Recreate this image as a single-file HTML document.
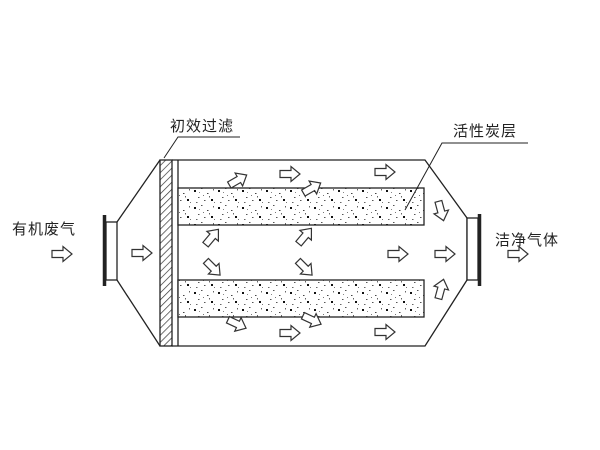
<!DOCTYPE html>
<html><head><meta charset="utf-8"><style>
body{margin:0;background:#fff}
svg{display:block}
text{font-family:"Liberation Sans","Noto Sans CJK SC",sans-serif;font-size:15px;fill:#222;letter-spacing:1px}
</style></head><body>
<svg width="600" height="450" viewBox="0 0 600 450">
<defs>
<pattern id="h" width="5" height="5" patternUnits="userSpaceOnUse" patternTransform="rotate(45)">
<rect width="5" height="5" fill="#fff"/><line x1="0" y1="0" x2="0" y2="5" stroke="#333" stroke-width="1.4"/></pattern>
<pattern id="d" width="24" height="17" patternUnits="userSpaceOnUse">
<rect width="24" height="17" fill="#fff"/>
<rect x="2" y="3" width="2" height="2" fill="#111"/><rect x="9" y="1" width="1.5" height="1" fill="#555"/>
<rect x="15" y="6" width="1.5" height="1" fill="#444"/><rect x="6" y="10" width="1.5" height="1" fill="#555"/>
<rect x="19" y="12" width="2" height="2" fill="#111"/><rect x="12" y="13" width="1.5" height="1" fill="#555"/>
<rect x="21" y="2" width="1" height="1.5" fill="#666"/><rect x="4" y="15" width="1.5" height="1" fill="#666"/>
<rect x="11" y="8" width="1" height="1" fill="#777"/><rect x="17" y="9" width="1" height="1.5" fill="#666"/>
<rect x="7" y="5" width="1" height="1" fill="#888"/><rect x="22" y="15" width="1" height="1" fill="#777"/>
</pattern>
<polygon id="a" points="-10,-3.5 1,-3.5 1,-7.5 10,0 1,7.5 1,3.5 -10,3.5" fill="#fff" stroke="#333" stroke-width="1.2"/>
</defs>
<g stroke="#222" stroke-width="1.3" fill="none">
<rect x="106" y="222" width="11" height="58" fill="#fff"/>
<line x1="104.5" y1="215" x2="104.5" y2="286" stroke-width="3.5"/>
<line x1="117" y1="222" x2="160" y2="160"/>
<line x1="117" y1="280" x2="160" y2="346"/>
<rect x="160" y="160" width="12" height="186" fill="url(#h)"/>
<polyline points="172,160 425,160 467,218 467,280 425,346 172,346"/>
<line x1="178" y1="160" x2="178" y2="346"/>
<rect x="178" y="188" width="246" height="37" fill="url(#d)"/>
<rect x="178" y="280" width="246" height="37" fill="url(#d)"/>
<rect x="467" y="218" width="11" height="62" fill="#fff"/>
<line x1="479.5" y1="214" x2="479.5" y2="286" stroke-width="3.5"/>
<polyline points="240,137 178,137 164,158" stroke-width="1"/>
<polyline points="528,143 442,143 405,210" stroke-width="1"/>
</g>
<text x="170" y="131">初效过滤</text>
<text x="453" y="136">活性炭层</text>
<text x="12" y="234">有机废气</text>
<text x="495" y="245">洁净气体</text>
<use href="#a" transform="translate(62,254)"/>
<use href="#a" transform="translate(142,253)"/>
<use href="#a" transform="translate(518,254)"/>
<use href="#a" transform="translate(290,174)"/>
<use href="#a" transform="translate(385,172)"/>
<use href="#a" transform="translate(290,333)"/>
<use href="#a" transform="translate(385,332)"/>
<use href="#a" transform="translate(398,254)"/>
<use href="#a" transform="translate(445,254)"/>
<use href="#a" transform="translate(238,180) rotate(-30)"/>
<use href="#a" transform="translate(312,188) rotate(-30)"/>
<use href="#a" transform="translate(212,237) rotate(-50)"/>
<use href="#a" transform="translate(305,236) rotate(-50)"/>
<use href="#a" transform="translate(213,268) rotate(45)"/>
<use href="#a" transform="translate(305,268) rotate(45)"/>
<use href="#a" transform="translate(237,324) rotate(25)"/>
<use href="#a" transform="translate(312,320) rotate(25)"/>
<use href="#a" transform="translate(441,211) rotate(75)"/>
<use href="#a" transform="translate(441,289) rotate(-75)"/>
</svg>
</body></html>
